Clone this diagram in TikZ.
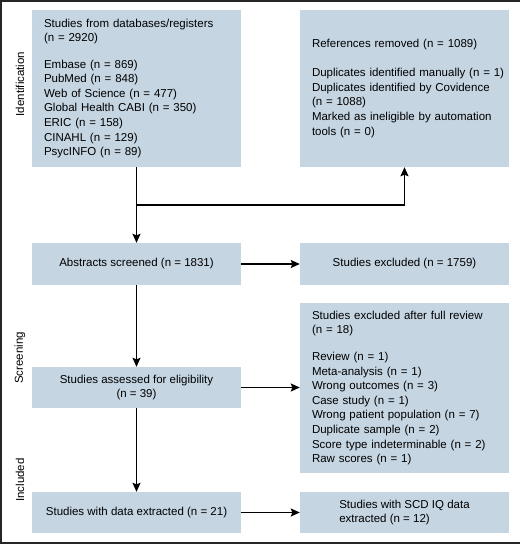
\documentclass[tikz,border=0pt]{standalone}
\usepackage{fontspec}
\setmainfont{Liberation Sans}
\usetikzlibrary{arrows.meta}
\definecolor{boxblue}{RGB}{197,213,226}
\begin{document}
\begin{tikzpicture}[x=1pt,y=-1pt,
  box/.style={fill=boxblue, draw=none, minimum width=209pt, inner ysep=0pt,
    font=\fontsize{11.5}{14.6}\selectfont},
  leftbox/.style={box, text width=205pt, inner xsep=2pt, align=left,
    execute at begin node={\leftskip=10pt\relax}},
  centbox/.style={box, align=center},
  arr/.style={line width=1.5pt, -{Stealth[length=9pt,width=8pt,inset=1.5pt]}},
  side/.style={rotate=90, font=\fontsize{11.5}{13}\selectfont}]
\useasboundingbox (0,0) rectangle (520,544);
\draw[line width=1.2pt, black!85] (520,1) -- (1,1) -- (1,543) -- (520,543);

\node[leftbox, minimum height=157pt] (db) at (136.5,88.5)
  {Studies from databases/registers\\(n = 2920)\\[11.5pt]
   Embase (n = 869)\\PubMed (n = 848)\\Web of Science (n = 477)\\
   Global Health CABI (n = 350)\\ERIC (n = 158)\\CINAHL (n = 129)\\PsycINFO (n = 89)};
\node[leftbox, minimum height=157pt] (rem) at (404.5,88.5)
  {References removed (n = 1089)\\[14.4pt]
   Duplicates identified manually (n = 1)\\Duplicates identified by Covidence\\(n = 1088)\\
   Marked as ineligible by automation\\tools (n = 0)};
\node[centbox, minimum height=42pt] (abs) at (136.5,264) {Abstracts screened (n = 1831)};
\node[centbox, minimum height=42pt] (exc) at (404.5,264) {Studies excluded (n = 1759)};
\node[centbox, minimum height=41pt] (elig) at (136.5,387.5) {Studies assessed for eligibility\\(n = 39)};
\node[leftbox, minimum height=170pt] (full) at (404.5,388)
  {Studies excluded after full review\\(n = 18)\\[12pt]
   Review (n = 1)\\Meta-analysis (n = 1)\\Wrong outcomes (n = 3)\\Case study (n = 1)\\
   Wrong patient population (n = 7)\\Duplicate sample (n = 2)\\
   Score type indeterminable (n = 2)\\Raw scores (n = 1)};
\node[centbox, minimum height=41pt] (inc) at (136.5,512.5) {Studies with data extracted (n = 21)};
\node[box, align=left, minimum height=41pt] (scd) at (404.5,512.5) {Studies with SCD IQ data\\extracted (n = 12)};

\node[side] (lid) at (20,84) {Identification};
\node[side] (lsc) at (20,358) {Screening};
\node[side] (lin) at (20,480) {Included};

\coordinate (j) at (136.5,205);
\draw[arr] (db.south) -- (abs.north);
\draw[arr] (j) -| (rem.south);
\draw[arr] (abs.east) -- (exc.west);
\draw[arr] (abs.south) -- (elig.north);
\draw[arr] (elig.east) -- (elig.east -| full.west);
\draw[arr] (elig.south) -- (inc.north);
\draw[arr] (inc.east) -- (scd.west);
\end{tikzpicture}
\end{document}
